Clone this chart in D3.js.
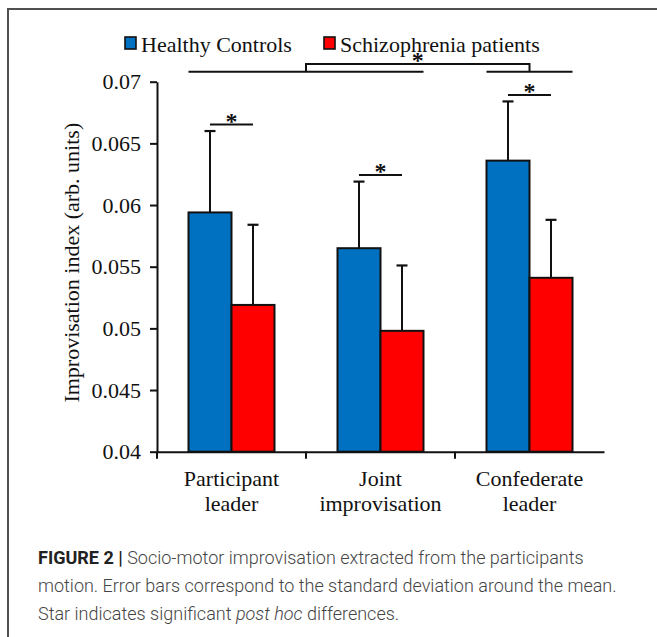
<!DOCTYPE html>
<html>
<head>
<meta charset="utf-8">
<script src="https://cdn.jsdelivr.net/npm/d3@7"></script>
<style>
  html, body { margin: 0; padding: 0; background: #fff; }
  svg { display: block; }
</style>
</head>
<body>
<script>
// ---- data ----
const categories = ["Participant leader", "Joint improvisation", "Confederate leader"];
const categoryLines = [["Participant", "leader"], ["Joint", "improvisation"], ["Confederate", "leader"]];
const series = ["Healthy Controls", "Schizophrenia patients"];
const meansHC = [0.0594, 0.0565, 0.0636];
const meansSZ = [0.0519, 0.0498, 0.0541];
const sdHC = [0.0066, 0.0054, 0.0048];
const sdSZ = [0.0065, 0.0053, 0.0047];
const pairSignificant = [true, true, true];
const yTicks = [0.04, 0.045, 0.05, 0.055, 0.06, 0.065, 0.07];
const yTickLabels = ["0.04", "0.045", "0.05", "0.055", "0.06", "0.065", "0.07"];
const yTitle = "Improvisation index (arb. units)";
const captionBold = "FIGURE 2 |";
const captionLines = [
  " Socio-motor improvisation extracted from the participants",
  "motion. Error bars correspond to the standard deviation around the mean.",
  "Star indicates significant "
];

const colors = { "Healthy Controls": "#0070C0", "Schizophrenia patients": "#FF0000" };
const serif = "'Liberation Serif', 'Times New Roman', serif";

const W = 657, H = 637;
const svg = d3.select("body").append("svg").attr("width", W).attr("height", H);

// frame
svg.append("path").attr("d", `M8,${H} V9 H${W}`).attr("fill", "none")
  .attr("stroke", "#505050").attr("stroke-width", 2);

const plot = { left: 157, right: 604, top: 81.7, bottom: 451.7 };

const x0 = d3.scaleBand().domain(categories).range([plot.left, plot.right]).paddingInner(0).paddingOuter(0);
const x1 = d3.scaleBand().domain(series).range([31.5, 117.5]).padding(0);
const y = d3.scaleLinear().domain([0.04, 0.07]).range([plot.bottom, plot.top]);

const rows = categories.map((c, i) => ({
  cat: c,
  vals: [
    { s: series[0], m: meansHC[i], sd: sdHC[i] },
    { s: series[1], m: meansSZ[i], sd: sdSZ[i] }
  ]
}));

const g = svg.selectAll("g.cat").data(rows).enter().append("g")
  .attr("transform", d => `translate(${x0(d.cat)},0)`);

// error bars
g.selectAll("g.err").data(d => d.vals).enter().append("g").each(function(d) {
  const cx = x1(d.s) + x1.bandwidth() / 2;
  const sel = d3.select(this);
  sel.append("line").attr("x1", cx).attr("x2", cx).attr("y1", y(d.m)).attr("y2", y(d.m + d.sd))
    .attr("stroke", "#111").attr("stroke-width", 2);
  sel.append("line").attr("x1", cx - 5.5).attr("x2", cx + 5.5).attr("y1", y(d.m + d.sd)).attr("y2", y(d.m + d.sd))
    .attr("stroke", "#111").attr("stroke-width", 2.2);
});

// bars
g.selectAll("rect").data(d => d.vals).enter().append("rect")
  .attr("x", d => x1(d.s))
  .attr("width", x1.bandwidth())
  .attr("y", d => y(d.m))
  .attr("height", d => y(0.04) - y(d.m))
  .attr("fill", d => colors[d.s])
  .attr("stroke", "#111").attr("stroke-width", 2);

// axes
const yAxis = d3.axisLeft(y).tickValues(yTicks).tickFormat((d, i) => yTickLabels[i]).tickSize(7).tickPadding(9).tickSizeOuter(0);
const ya = svg.append("g").attr("transform", `translate(${plot.left},0)`).call(yAxis);
ya.selectAll("text").attr("font-family", serif).attr("font-size", 22).attr("fill", "#111");
ya.selectAll("line, path").attr("stroke", "#111").attr("stroke-width", 2);

const xAxis = d3.axisBottom(x0).tickValues([]).tickSizeOuter(0);
const xa = svg.append("g").attr("transform", `translate(0,${plot.bottom})`).call(xAxis);
xa.selectAll("path").attr("stroke", "#111").attr("stroke-width", 2);
// category boundary ticks
const bounds = categories.map(c => x0(c));
xa.selectAll("line.bt").data(bounds).enter().append("line")
  .attr("x1", d => d).attr("x2", d => d).attr("y1", 0).attr("y2", 7)
  .attr("stroke", "#111").attr("stroke-width", 2);

// category labels
categories.forEach((c, i) => {
  const cx = x0(c) + x0.bandwidth() / 2;
  categoryLines[i].forEach((t, j) => {
    svg.append("text").attr("x", cx).attr("y", 486 + j * 25)
      .attr("text-anchor", "middle").attr("font-family", serif).attr("font-size", 22).attr("fill", "#111").text(t);
  });
});

// y title
svg.append("text").attr("transform", `translate(71.5,${(plot.top + plot.bottom) / 2 - 4}) rotate(-90)`)
  .attr("text-anchor", "middle").attr("dominant-baseline", "central")
  .attr("font-family", serif).attr("font-size", 22).attr("fill", "#111").text(yTitle);

// legend
const legendX = [125, 324];
series.forEach((s, i) => {
  svg.append("rect").attr("x", legendX[i]).attr("y", 37).attr("width", 11).attr("height", 12)
    .attr("fill", colors[s]).attr("stroke", "#111").attr("stroke-width", 1.6);
  svg.append("text").attr("x", legendX[i] + 16).attr("y", 52).attr("font-family", serif)
    .attr("font-size", 22).attr("fill", "#111").text(s);
});

// significance stars
function star(xc, lineY) {
  svg.append("text").attr("x", xc).attr("y", lineY + 4).attr("text-anchor", "middle")
    .attr("font-family", serif).attr("font-size", 24).attr("font-weight", 700).attr("fill", "#111").text("*");
}
rows.forEach((r, i) => {
  if (!pairSignificant[i]) return;
  const xa_ = x0(r.cat) + x1(series[0]) + x1.bandwidth() / 2;
  const xb_ = x0(r.cat) + x1(series[1]) + x1.bandwidth() / 2;
  const ly = y(r.vals[0].m + r.vals[0].sd) - 6.5;
  svg.append("line").attr("x1", xa_).attr("x2", xb_).attr("y1", ly).attr("y2", ly)
    .attr("stroke", "#111").attr("stroke-width", 2);
  star((xa_ + xb_) / 2, ly);
});

// main effect bracket
const lowY = y(0.07) - 10, highY = y(0.07) - 17.7;
const segA = [x0(categories[0]) + x1(series[0]), x0(categories[1]) + x1(series[1]) + x1.bandwidth()];
const segB = [x0(categories[2]) + x1(series[0]), x0(categories[2]) + x1(series[1]) + x1.bandwidth()];
[segA, segB].forEach(s => svg.append("line").attr("x1", s[0]).attr("x2", s[1]).attr("y1", lowY).attr("y2", lowY)
  .attr("stroke", "#111").attr("stroke-width", 2));
const bxA = x0(categories[1]);
const bxB = x0(categories[2]) + x1(series[1]);
svg.append("path").attr("d", `M${bxA},${lowY} V${highY} H${bxB} V${lowY}`).attr("fill", "none")
  .attr("stroke", "#111").attr("stroke-width", 2);
star((bxA + bxB) / 2, highY);

// caption
const capFont = "Roboto, 'Liberation Sans', Arial, sans-serif";
const capX = 38, capY = [564, 592, 620];
const t1 = svg.append("text").attr("x", capX).attr("y", capY[0]).attr("font-family", capFont).attr("font-size", 17).attr("fill", "#444");
t1.append("tspan").attr("font-weight", 700).attr("fill", "#222").text(captionBold);
t1.append("tspan").attr("font-weight", 300).text(captionLines[0]);
const t2 = svg.append("text").attr("x", capX).attr("y", capY[1]).attr("font-family", capFont).attr("font-size", 17)
  .attr("font-weight", 300).attr("fill", "#444").text(captionLines[1]);
const t3 = svg.append("text").attr("x", capX).attr("y", capY[2]).attr("font-family", capFont).attr("font-size", 17)
  .attr("font-weight", 300).attr("fill", "#444");
t3.append("tspan").text(captionLines[2]);
t3.append("tspan").attr("font-style", "italic").text("post hoc");
t3.append("tspan").text(" differences.");
const len = t2.node().getComputedTextLength();
const fs = 17 * 579 / len;
[t1, t2, t3].forEach(t => t.attr("font-size", fs));
</script>
</body>
</html>
